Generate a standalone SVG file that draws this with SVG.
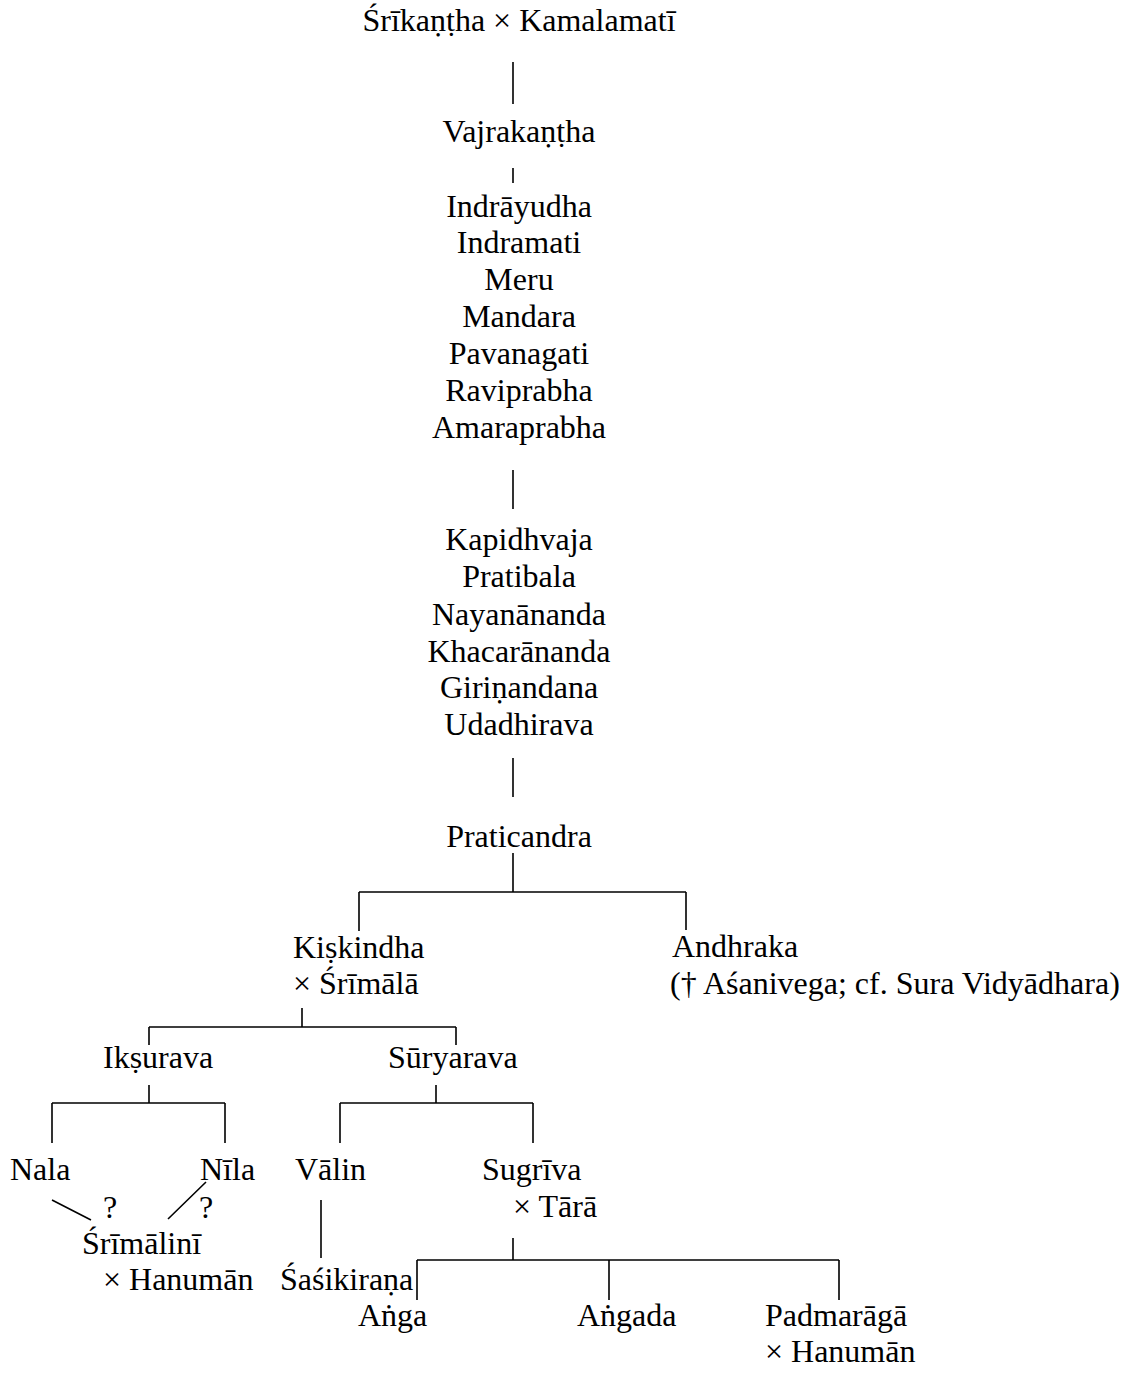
<svg xmlns="http://www.w3.org/2000/svg" width="1143" height="1374" viewBox="0 0 1143 1374">
<style>
text{font-family:"Liberation Serif","Times New Roman",serif;font-size:32px;fill:#000}
.c{text-anchor:middle}
.ln{stroke:#000;stroke-width:1.6;fill:none}
</style>
<rect width="1143" height="1374" fill="#fff"/>
<g id="connectors" class="ln">
<path d="M513,62V104M513,168V183M513,470V509M513,758V797"/>
<path d="M513,853V892M359,892H686M359,892V931M686,892V930"/>
<path d="M302,1008V1027M149,1027H456M149,1027V1045M456,1027V1045"/>
<path d="M149,1085V1103M52,1103H225M52,1103V1143M225,1103V1143"/>
<path d="M436,1085V1103M340,1103H533M340,1103V1143M533,1103V1143"/>
<path d="M52,1200L91,1220M168,1219L206,1182"/>
<path d="M321,1200V1258"/>
<path d="M513,1238V1260M417,1260H839M417,1260V1300M609,1260V1300M839,1260V1300"/>
</g>
<g id="n-srikantha"><text class="c" x="519" y="31">Śrīkaṇṭha × Kamalamatī</text></g>
<g id="n-vajrakantha"><text class="c" x="519" y="142">Vajrakaṇṭha</text></g>
<g id="n-list1">
<text class="c" x="519" y="217">Indrāyudha</text>
<text class="c" x="519" y="253">Indramati</text>
<text class="c" x="519" y="290">Meru</text>
<text class="c" x="519" y="327">Mandara</text>
<text class="c" x="519" y="364">Pavanagati</text>
<text class="c" x="519" y="401">Raviprabha</text>
<text class="c" x="519" y="438">Amaraprabha</text>
</g>
<g id="n-list2">
<text class="c" x="519" y="550">Kapidhvaja</text>
<text class="c" x="519" y="587">Pratibala</text>
<text class="c" x="519" y="625">Nayanānanda</text>
<text class="c" x="519" y="662">Khacarānanda</text>
<text class="c" x="519" y="698">Giriṇandana</text>
<text class="c" x="519" y="735">Udadhirava</text>
</g>
<g id="n-praticandra"><text class="c" x="519" y="847">Praticandra</text></g>
<g id="n-kiskindha"><text x="293" y="958">Kiṣkindha</text><text x="293" y="994">× Śrīmālā</text></g>
<g id="n-andhraka"><text x="672" y="957">Andhraka</text><text x="670" y="994">(† Aśanivega; cf. Sura Vidyādhara)</text></g>
<g id="n-iksurava"><text x="103" y="1068">Ikṣurava</text></g>
<g id="n-suryarava"><text x="388" y="1068">Sūryarava</text></g>
<g id="n-nala"><text x="10" y="1180">Nala</text></g>
<g id="n-nila"><text x="200" y="1180">Nīla</text></g>
<g id="q-marks"><text class="c" x="110" y="1218">?</text><text class="c" x="206" y="1218">?</text></g>
<g id="n-srimalini"><text x="82" y="1254">Śrīmālinī</text><text x="103" y="1290">× Hanumān</text></g>
<g id="n-valin"><text x="295" y="1180">Vālin</text></g>
<g id="n-sugriva"><text x="482" y="1180">Sugrīva</text><text x="513" y="1217">× Tārā</text></g>
<g id="n-sasikirana"><text x="280" y="1290">Śaśikiraṇa</text></g>
<g id="n-anga"><text x="358" y="1326">Aṅga</text></g>
<g id="n-angada"><text x="577" y="1326">Aṅgada</text></g>
<g id="n-padmaraga"><text x="765" y="1326">Padmarāgā</text><text x="765" y="1362">× Hanumān</text></g>
</svg>
